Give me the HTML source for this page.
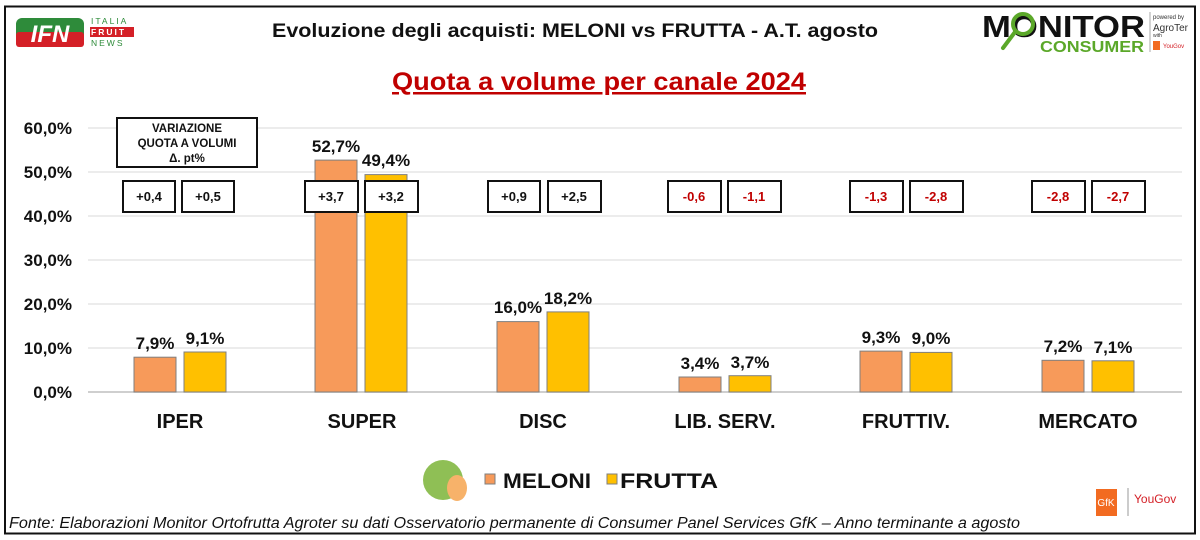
<!DOCTYPE html>
<html><head><meta charset="utf-8"><style>
body{margin:0;background:#fff;}
svg{display:block;font-family:"Liberation Sans",Arial,sans-serif;}
</style></head><body>
<svg width="1200" height="540" viewBox="0 0 1200 540">
<rect x="0" y="0" width="1200" height="540" fill="#fff"/>
<rect x="5" y="6.5" width="1190" height="527" fill="none" stroke="#111" stroke-width="2"/>
<!-- IFN logo -->
<rect x="16" y="18" width="68" height="29" rx="6" fill="#2e8b3a"/>
<rect x="16" y="32" width="68" height="15" rx="3" fill="#d42027"/>
<text x="50" y="42" font-size="24" font-weight="bold" fill="#fff" text-anchor="middle" font-style="italic">IFN</text>
<text x="91" y="24" font-size="8.5" fill="#2e8b3a" letter-spacing="2">ITALIA</text>
<rect x="90" y="27" width="44" height="10" fill="#d42027"/>
<text x="91" y="35" font-size="8.5" fill="#fff" letter-spacing="2" font-weight="bold">FRUIT</text>
<text x="91" y="46" font-size="8.5" fill="#2e8b3a" letter-spacing="2">NEWS</text>
<!-- Monitor consumer logo -->
<text x="982" y="37" font-size="31" font-weight="bold" fill="#111" textLength="163" lengthAdjust="spacingAndGlyphs">MONITOR</text>
<circle cx="1023" cy="24" r="10" fill="none" stroke="#5ba829" stroke-width="4"/>
<line x1="1015" y1="32" x2="1003" y2="48" stroke="#5ba829" stroke-width="4" stroke-linecap="round"/>
<text x="1040" y="52" font-size="16" font-weight="bold" fill="#5ba829" textLength="104" lengthAdjust="spacingAndGlyphs">CONSUMER</text>
<line x1="1150" y1="12" x2="1150" y2="52" stroke="#aaa"/>
<text x="1153" y="19" font-size="6" fill="#333">powered by</text>
<text x="1153" y="31" font-size="10" fill="#333">AgroTer</text>
<text x="1153" y="37" font-size="5" fill="#333">with</text>
<rect x="1153" y="41" width="7" height="9" fill="#f26b21"/>
<text x="1163" y="48" font-size="6" fill="#d42027">YouGov</text>
<!-- titles -->
<text x="272" y="37" font-size="19" font-weight="bold" fill="#111" textLength="606" lengthAdjust="spacingAndGlyphs">Evoluzione degli acquisti: MELONI vs FRUTTA  - A.T. agosto</text>
<text x="392" y="90" font-size="25" font-weight="bold" fill="#c00000" text-decoration="underline" textLength="414" lengthAdjust="spacingAndGlyphs">Quota a volume per canale 2024</text>
<!-- grid -->
<g stroke="#d9d9d9" stroke-width="1">
<line x1="88" y1="128" x2="1182" y2="128"/>
<line x1="88" y1="172" x2="1182" y2="172"/>
<line x1="88" y1="216" x2="1182" y2="216"/>
<line x1="88" y1="260" x2="1182" y2="260"/>
<line x1="88" y1="304" x2="1182" y2="304"/>
<line x1="88" y1="348" x2="1182" y2="348"/>
</g>
<line x1="88" y1="392" x2="1182" y2="392" stroke="#bfbfbf" stroke-width="1.5"/>
<g font-size="17" font-weight="bold" text-anchor="end" fill="#111">
<text x="72" y="134">60,0%</text><text x="72" y="178">50,0%</text><text x="72" y="222">40,0%</text>
<text x="72" y="266">30,0%</text><text x="72" y="310">20,0%</text><text x="72" y="354">10,0%</text><text x="72" y="398">0,0%</text>
</g>
<!-- bars -->
<g stroke="#7f7f7f" stroke-width="1">
<rect x="134" y="357.2" width="42" height="34.8" fill="#f79a5a"/><rect x="184" y="352" width="42" height="40" fill="#ffc000"/>
<rect x="315" y="160.1" width="42" height="231.9" fill="#f79a5a"/><rect x="365" y="174.6" width="42" height="217.4" fill="#ffc000"/>
<rect x="497" y="321.6" width="42" height="70.4" fill="#f79a5a"/><rect x="547" y="311.9" width="42" height="80.1" fill="#ffc000"/>
<rect x="679" y="377" width="42" height="15" fill="#f79a5a"/><rect x="729" y="375.7" width="42" height="16.3" fill="#ffc000"/>
<rect x="860" y="351.1" width="42" height="40.9" fill="#f79a5a"/><rect x="910" y="352.4" width="42" height="39.6" fill="#ffc000"/>
<rect x="1042" y="360.3" width="42" height="31.7" fill="#f79a5a"/><rect x="1092" y="360.8" width="42" height="31.2" fill="#ffc000"/>
</g>
<g font-size="17" font-weight="bold" text-anchor="middle" fill="#111">
<text x="155" y="349">7,9%</text><text x="205" y="344">9,1%</text>
<text x="336" y="152">52,7%</text><text x="386" y="166">49,4%</text>
<text x="518" y="313">16,0%</text><text x="568" y="304">18,2%</text>
<text x="700" y="369">3,4%</text><text x="750" y="368">3,7%</text>
<text x="881" y="343">9,3%</text><text x="931" y="344">9,0%</text>
<text x="1063" y="352">7,2%</text><text x="1113" y="353">7,1%</text>
</g>
<!-- category labels -->
<g font-size="20" font-weight="bold" text-anchor="middle" fill="#111">
<text x="180" y="428">IPER</text><text x="362" y="428">SUPER</text><text x="543" y="428">DISC</text>
<text x="725" y="428">LIB. SERV.</text><text x="906" y="428">FRUTTIV.</text><text x="1088" y="428">MERCATO</text>
</g>
<!-- variation box -->
<rect x="117" y="118" width="140" height="49" fill="#fff" stroke="#111" stroke-width="2"/>
<g font-size="11.5" font-weight="bold" text-anchor="middle" fill="#111">
<text x="187" y="132">VARIAZIONE</text><text x="187" y="147">QUOTA A VOLUMI</text><text x="187" y="162">Δ. pt%</text>
</g>
<!-- delta boxes -->
<g fill="#fff" stroke="#111" stroke-width="2">
<rect x="123" y="181" width="52" height="31"/><rect x="182" y="181" width="52" height="31"/>
<rect x="305" y="181" width="53" height="31"/><rect x="365" y="181" width="53" height="31"/>
<rect x="488" y="181" width="52" height="31"/><rect x="548" y="181" width="53" height="31"/>
<rect x="668" y="181" width="53" height="31"/><rect x="728" y="181" width="53" height="31"/>
<rect x="850" y="181" width="53" height="31"/><rect x="910" y="181" width="53" height="31"/>
<rect x="1032" y="181" width="53" height="31"/><rect x="1092" y="181" width="53" height="31"/>
</g>
<g font-size="13" font-weight="bold" text-anchor="middle">
<text x="149" y="201" fill="#111">+0,4</text><text x="208" y="201" fill="#111">+0,5</text>
<text x="331" y="201" fill="#111">+3,7</text><text x="391" y="201" fill="#111">+3,2</text>
<text x="514" y="201" fill="#111">+0,9</text><text x="574" y="201" fill="#111">+2,5</text>
<text x="694" y="201" fill="#c00000">-0,6</text><text x="754" y="201" fill="#c00000">-1,1</text>
<text x="876" y="201" fill="#c00000">-1,3</text><text x="936" y="201" fill="#c00000">-2,8</text>
<text x="1058" y="201" fill="#c00000">-2,8</text><text x="1118" y="201" fill="#c00000">-2,7</text>
</g>
<!-- legend -->
<circle cx="443" cy="480" r="20" fill="#8fbf55"/>
<ellipse cx="457" cy="488" rx="10" ry="13" fill="#f7b26a"/>
<rect x="485" y="474" width="10" height="10" fill="#f79a5a" stroke="#7f7f7f"/>
<text x="503" y="488" font-size="21" font-weight="bold" fill="#111" textLength="88" lengthAdjust="spacingAndGlyphs">MELONI</text>
<rect x="607" y="474" width="10" height="10" fill="#ffc000" stroke="#7f7f7f"/>
<text x="620" y="488" font-size="21" font-weight="bold" fill="#111" textLength="98" lengthAdjust="spacingAndGlyphs">FRUTTA</text>
<!-- gfk logo -->
<rect x="1096" y="489" width="21" height="27" fill="#f26b21"/>
<text x="1106" y="506" font-size="10" fill="#fff" text-anchor="middle">GfK</text>
<line x1="1128" y1="488" x2="1128" y2="516" stroke="#999"/>
<text x="1134" y="503" font-size="12" fill="#d42027">YouGov</text>
<!-- footer -->
<text x="9" y="528" font-size="15.5" font-style="italic" fill="#111" textLength="1011" lengthAdjust="spacingAndGlyphs">Fonte: Elaborazioni Monitor Ortofrutta Agroter su dati Osservatorio permanente di Consumer Panel Services GfK  – Anno terminante a agosto</text>
</svg>
</body></html>
